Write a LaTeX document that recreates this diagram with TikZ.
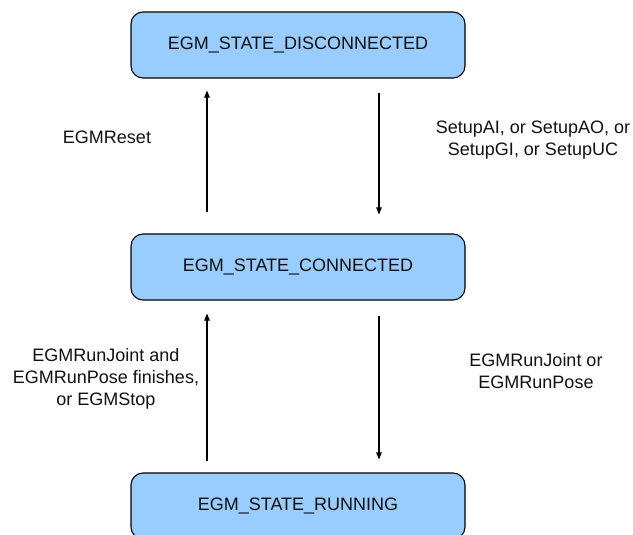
\documentclass[tikz,border=0pt]{standalone}
\usepackage{fontspec}
\setmainfont{Liberation Sans}
\usetikzlibrary{arrows.meta}
\definecolor{boxblue}{HTML}{99CCFF}
\definecolor{txt}{HTML}{111111}
\begin{document}
\begin{tikzpicture}[x=1pt,y=-1pt,
  state/.style={draw=black, fill=boxblue, rounded corners=12pt, line width=1.1pt,
    minimum width=334pt, minimum height=66pt, inner sep=0pt,
    font=\fontsize{18}{22}\selectfont, text=txt},
  lbl/.style={font=\fontsize{18}{22}\selectfont, align=center, text=txt, inner sep=0pt},
  trans/.style={-{Triangle[length=7pt,width=5.5pt]}, line width=1.1pt}]
\clip (0,0) rectangle (633,535);
\useasboundingbox (0,0) rectangle (633,535);
\node[state] (disc) at (298,45) {EGM\_STATE\_DISCONNECTED};
\node[state] (conn) at (298,267) {EGM\_STATE\_CONNECTED};
\node[state] (run) at (298,506) {EGM\_STATE\_RUNNING};
\draw[trans] ([xshift=-91pt,yshift=21pt]conn.north) -- ([xshift=-91pt,yshift=-12pt]disc.south);
\draw[trans] ([xshift=81pt,yshift=-14pt]disc.south) -- ([xshift=81pt,yshift=19pt]conn.north);
\draw[trans] ([xshift=-91pt,yshift=11pt]run.north) -- ([xshift=-91pt,yshift=-13pt]conn.south);
\draw[trans] ([xshift=81pt,yshift=-15pt]conn.south) -- ([xshift=81pt,yshift=13pt]run.north);
\node[lbl] (reset) at (107,137) {EGMReset};
\node[lbl] (setup) at (533,140) {SetupAI, or SetupAO, or\\SetupGI, or SetupUC};
\node[lbl] (finish) at (106,379) {EGMRunJoint and\\EGMRunPose finishes,\\or EGMStop};
\node[lbl] (runlbl) at (536,371) {EGMRunJoint or\\EGMRunPose};
\end{tikzpicture}
\end{document}
